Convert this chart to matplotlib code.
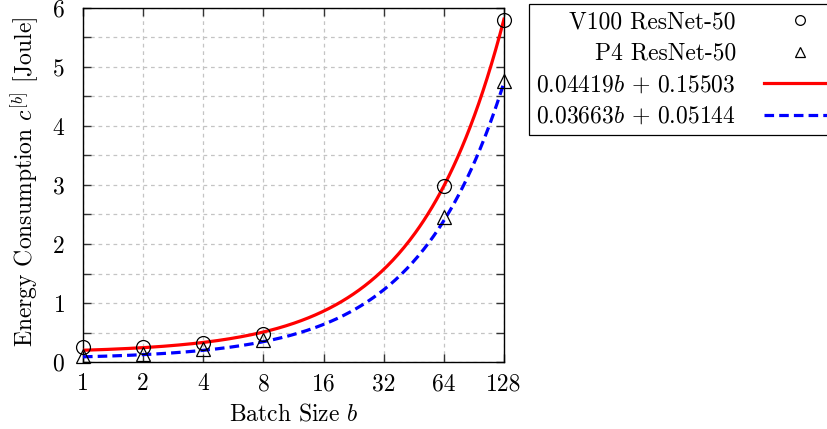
"""Energy consumption per batch size, V100 vs P4 (ResNet-50)."""

import numpy as np
import matplotlib
matplotlib.use("Agg")
import matplotlib.pyplot as plt
from matplotlib.ticker import FixedLocator, MultipleLocator

plt.rcParams['font.family'] = 'serif'
plt.rcParams['font.serif'] = ['cmr10', 'DejaVu Serif']
plt.rcParams['mathtext.fontset'] = 'cm'
plt.rcParams['axes.formatter.use_mathtext'] = True

fontsize = 17

# measured points
batch_sizes = [1, 2, 4, 8, 64, 128]
v100_energy = [0.25, 0.25, 0.33, 0.47, 2.98, 5.80]
p4_energy = [0.10, 0.13, 0.22, 0.38, 2.45, 4.76]

# linear fits  c = slope * b + intercept
fit_slopes = [0.04419, 0.03663]
fit_intercepts = [0.15503, 0.05144]
fit_labels = [r'$0.04419b\,+\,0.15503$', r'$0.03663b\,+\,0.05144$']

xtick_values = [1, 2, 4, 8, 16, 32, 64, 128]

fig = plt.figure(figsize=(8.27, 4.29), dpi=100)
ax = fig.add_axes([83/827, 1 - 362/429, (504 - 83)/827, (362 - 8)/429])

b = np.geomspace(1, 128, 300)
ax.plot(b, fit_slopes[0]*b + fit_intercepts[0], color='red', lw=2.3,
        label=fit_labels[0], zorder=3)
ax.plot(b, fit_slopes[1]*b + fit_intercepts[1], color='blue', lw=2.3,
        ls=(0, (3, 1.6)), label=fit_labels[1], zorder=3)
ax.plot(batch_sizes, v100_energy, ls='none', marker='o', ms=10, mfc='none',
        mec='black', mew=0.9, label='V100 ResNet-50', zorder=4, clip_on=False)
ax.plot(batch_sizes, p4_energy, ls='none', marker='^', ms=10, mfc='none',
        mec='black', mew=0.9, label='P4 ResNet-50', zorder=4, clip_on=False)

ax.set_xscale('log', base=2)
ax.set_xlim(1, 128)
ax.set_ylim(0, 6)
ax.xaxis.set_major_locator(FixedLocator(xtick_values))
ax.set_xticklabels([str(v) for v in xtick_values])
ax.xaxis.set_minor_locator(FixedLocator([]))
ax.yaxis.set_major_locator(MultipleLocator(1))
ax.yaxis.set_minor_locator(MultipleLocator(0.5))

ax.tick_params(which='both', direction='in', top=True, right=True,
               labelsize=fontsize, width=1.0, color='#333333', length=6)
ax.tick_params(axis='x', pad=8)
ax.tick_params(axis='y', pad=13)

ax.grid(True, which='major', axis='x', ls=(0, (3, 3)), color='#c4c4c4', lw=0.9)
ax.grid(True, which='both', axis='y', ls=(0, (3, 3)), color='#c4c4c4', lw=0.9)
ax.set_axisbelow(True)
for spine in ax.spines.values():
    spine.set_linewidth(1.0)

ax.set_xlabel(r'Batch Size $b$', fontsize=fontsize, labelpad=6)
ax.set_ylabel(r'Energy Consumption $c^{[b]}$ [Joule]', fontsize=fontsize)
ax.yaxis.set_label_coords(-0.10, 0.51)

handles, labels = ax.get_legend_handles_labels()
order = [2, 3, 0, 1]
leg = fig.legend([handles[i] for i in order], [labels[i] for i in order],
                 loc='upper left', bbox_to_anchor=(529/827, 1 - 4/429),
                 markerfirst=False, fontsize=fontsize, frameon=True,
                 fancybox=False, edgecolor='black', framealpha=1,
                 handlelength=3.0, handletextpad=1.2, labelspacing=0.4,
                 borderpad=0.3, borderaxespad=0)
leg.get_frame().set_linewidth(0.9)
for h in leg.legend_handles:
    if h.get_marker() in ('o', '^'):
        h.set_markersize(7)

plt.savefig('out.png', dpi=100)
